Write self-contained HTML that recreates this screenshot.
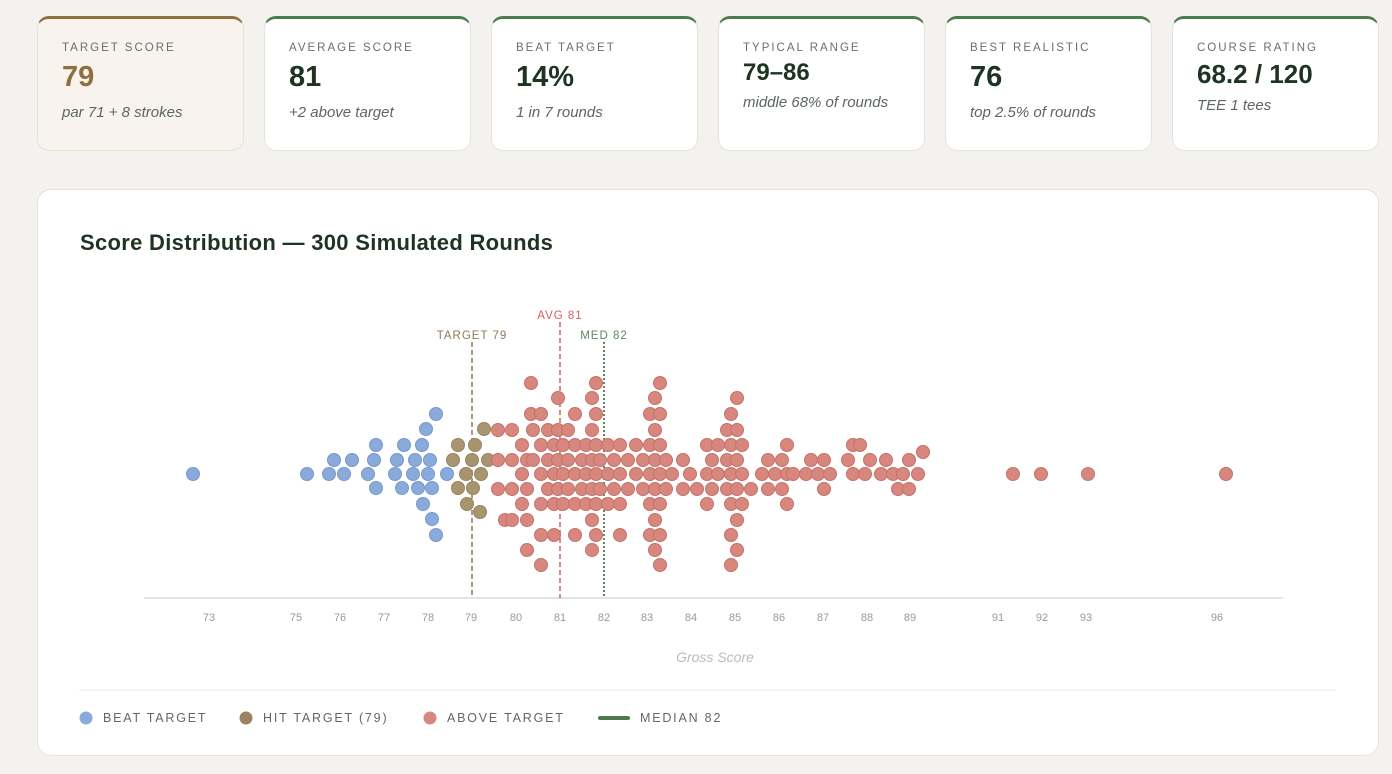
<!DOCTYPE html>
<html><head><meta charset="utf-8"><style>
*{box-sizing:border-box;margin:0;padding:0}
body{width:1392px;height:774px;background:#f4f2ee;font-family:"Liberation Sans",sans-serif;position:relative;overflow:hidden}
.card{position:absolute;top:16px;width:207px;height:135px;background:#fff;border:1px solid #e6e3dc;border-top:3px solid #4e7a50;border-radius:12px;padding:0 24px}
.card.t{background:#f8f3ec;border-top-color:#8e7040}
.lab{position:absolute;top:23px;left:24px;font-size:11.5px;letter-spacing:2px;color:#6b6f68}
.val{position:absolute;top:42px;left:24px;font-size:29px;font-weight:bold;color:#1f3322}
.t .val{color:#8e7040}
.sub{position:absolute;top:83px;left:24px;font-size:15px;font-style:italic;color:#5d6660;line-height:19px;width:150px}
.chart{position:absolute;left:37px;top:189px;width:1342px;height:567px;background:#fff;border:1px solid #e6e3dc;border-radius:14px}
.title{position:absolute;left:42px;top:40px;font-size:22px;font-weight:bold;color:#1f3322;letter-spacing:.3px}
</style></head><body>
<div class="card t" style="left:37px"><div class="lab">TARGET SCORE</div><div class="val">79</div><div class="sub" style="top:84px">par 71 + 8 strokes</div></div>
<div class="card" style="left:264px"><div class="lab">AVERAGE SCORE</div><div class="val">81</div><div class="sub" style="top:84px">+2 above target</div></div>
<div class="card" style="left:491px"><div class="lab">BEAT TARGET</div><div class="val">14%</div><div class="sub" style="top:84px">1 in 7 rounds</div></div>
<div class="card" style="left:718px"><div class="lab">TYPICAL RANGE</div><div class="val" style="font-size:24px;top:40px">79–86</div><div class="sub" style="top:74px">middle 68% of rounds</div></div>
<div class="card" style="left:945px"><div class="lab">BEST REALISTIC</div><div class="val">76</div><div class="sub" style="top:84px">top 2.5% of rounds</div></div>
<div class="card" style="left:1172px"><div class="lab">COURSE RATING</div><div class="val" style="font-size:26px;top:40px">68.2 / 120</div><div class="sub" style="top:77px">TEE 1 tees</div></div>
<div class="chart"><div class="title">Score Distribution — 300 Simulated Rounds</div></div>
<svg width="1392" height="774" style="position:absolute;left:0;top:0" id="s" font-family="Liberation Sans, sans-serif">
<line x1="144" y1="598" x2="1283" y2="598" stroke="#dcdcdc" stroke-width="1.5"/>
<line x1="79" y1="690" x2="1336" y2="690" stroke="#ebebeb"/>
<g font-size="11" fill="#999" text-anchor="middle">
<text x="209" y="621">73</text><text x="296" y="621">75</text><text x="340" y="621">76</text><text x="384" y="621">77</text><text x="428" y="621">78</text><text x="471" y="621">79</text><text x="516" y="621">80</text><text x="560" y="621">81</text><text x="604" y="621">82</text><text x="647" y="621">83</text><text x="691" y="621">84</text><text x="735" y="621">85</text><text x="779" y="621">86</text><text x="823" y="621">87</text><text x="867" y="621">88</text><text x="910" y="621">89</text><text x="998" y="621">91</text><text x="1042" y="621">92</text><text x="1086" y="621">93</text><text x="1217" y="621">96</text>
</g>
<text x="715" y="662" font-size="14" font-style="italic" fill="#bbb" text-anchor="middle">Gross Score</text>
<line x1="472" y1="342" x2="472" y2="598" stroke="#8e7a58" stroke-width="1.5" stroke-dasharray="5,3"/>
<line x1="560" y1="322" x2="560" y2="598" stroke="#d06060" stroke-width="1.5" stroke-dasharray="5,3"/>
<line x1="604" y1="342" x2="604" y2="598" stroke="#4e7a50" stroke-width="1.8" stroke-dasharray="2,2"/>
<g font-size="11.5" letter-spacing="1" text-anchor="middle">
<text x="472" y="339" fill="#8e7a58">TARGET 79</text>
<text x="560" y="319" fill="#d06060">AVG 81</text>
<text x="604" y="339" fill="#5a8a5c">MED 82</text>
</g>
<g id="dots"></g>
<g font-size="12.5" letter-spacing="1.8" fill="#666">
<circle cx="86" cy="718" r="6.5" fill="#8aaadc"/><text x="103" y="722">BEAT TARGET</text>
<circle cx="246" cy="718" r="6.5" fill="#9a8462"/><text x="263" y="722">HIT TARGET (79)</text>
<circle cx="430" cy="718" r="6.5" fill="#d7877d"/><text x="447" y="722">ABOVE TARGET</text>
<line x1="600" y1="718" x2="628" y2="718" stroke="#4e7a50" stroke-width="4" stroke-linecap="round"/><text x="640" y="722">MEDIAN 82</text>
</g>
</svg>
<script>
var g=document.getElementById('dots'),h='';
function c(x,y,f,s){h+='<circle cx="'+x+'" cy="'+y+'" r="6.5" fill="'+f+'" stroke="'+s+'" stroke-width="1"/>';}
var blue=[[193,474],[307,474],[329,474],[344,474],[334,460],[352,460],[368,474],[374,460],[376,445],[376,488],[395,474],[397,460],[402,488],[404,445],[413,474],[415,460],[418,488],[422,445],[426,429],[436,414],[428,474],[430,460],[432,488],[423,504],[432,519],[436,535],[447,474]];
blue.forEach(function(p){c(p[0],p[1],'#8aaadc','#7898cc')});
var tan=[[458,445],[475,445],[484,429],[453,460],[472,460],[488,460],[466,474],[481,474],[458,488],[473,488],[467,504],[480,512]];
tan.forEach(function(p){c(p[0],p[1],'#a8956f','#978460')});
var rows=[367,383,398,414,430,445,460,474,489,504,520,535,550,565];
var cols=[[498,430,504],[505,520,520],[512,414,535],[522,430,520],[527,460,550],[531,383,414],[533,430,474],[541,414,565],[548,414,504],[554,445,535],[558,398,504],[563,445,520],[568,430,489],[575,414,535],[582,445,504],[586,430,520],[592,383,565],[596,367,550],[600,445,504],[608,436,504],[614,460,489],[620,420,535],[628,460,489],[636,440,489],[643,460,489],[650,414,535],[655,383,565],[660,367,565],[666,460,489],[672,474,489],[683,445,489],[690,460,474],[697,474,489],[707,430,504],[712,460,489],[718,445,489],[727,414,504],[731,398,565],[737,383,565],[742,445,504],[751,474,489],[762,474,474],[768,460,489],[775,474,489],[782,445,504],[787,436,511],[793,474,474],[806,460,489],[811,445,460],[818,474,489],[824,460,504],[830,474,474],[848,460,474],[853,445,489],[860,445,445],[865,474,474],[870,460,460],[881,474,489],[886,460,474],[893,474,474],[898,489,489],[903,474,474],[909,460,496],[918,474,474],[923,452,452],[1013,474,474],[1041,474,474],[1088,474,474],[1226,474,474]];
cols.forEach(function(cl,k){var sel=[];rows.forEach(function(y,i){if(y>=cl[1]-3&&y<=cl[2]+3)sel.push([y,i]);});
 if(sel.length==0){c(cl[0],cl[1],'#d7877d','#c5726a');return;}
 var used=sel.filter(function(s){return (s[1]+k)%2==0;});
 if(used.length==0)used=[sel[0]];
 used.forEach(function(s){c(cl[0],s[0],'#d7877d','#c5726a');});});
g.innerHTML=h;
</script>
</body></html>
